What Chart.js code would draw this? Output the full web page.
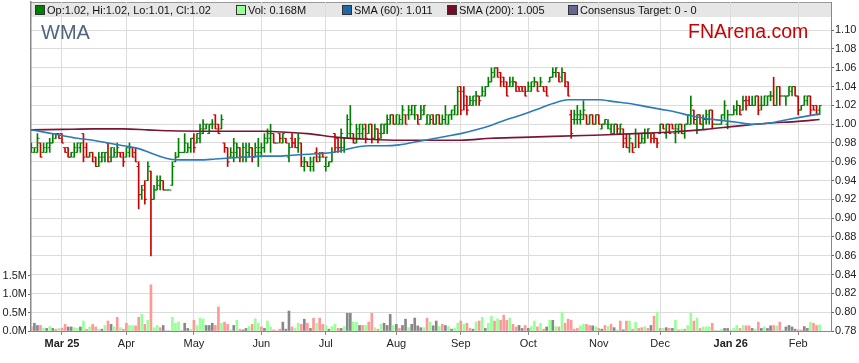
<!DOCTYPE html>
<html>
<head>
<meta charset="utf-8">
<title>WMA</title>
<script src="https://cdn.jsdelivr.net/npm/chart.js@4.4.1/dist/chart.umd.min.js"></script>
<style>
  html, body { margin: 0; padding: 0; background: #fff; }
  #wrap { position: relative; width: 859px; height: 363px; font-family: "Liberation Sans", Arial, sans-serif; }
  #chart { position: absolute; left: 0; top: 0; }
  #legend { position: absolute; left: 31px; top: 3px; width: 800px; height: 14px; font-size: 11px; color: #111; }
  .item { position: absolute; top: 1px; line-height: 13px; white-space: nowrap; }
  .sw { display: inline-block; width: 8px; height: 8px; border: 1px solid #333; vertical-align: -1px; margin-right: 2px; }
  #ticker { position: absolute; left: 41px; top: 22px; font-size: 20px; line-height: 20px; color: #51657c; }
  #brand { position: absolute; left: 688px; top: 21px; font-size: 19.5px; line-height: 20px; color: #cc0000; }
</style>
</head>
<body>
<div id="wrap">
  <canvas id="chart" width="859" height="363"></canvas>
  <div id="legend">
    <span class="item" style="left:4px"><i class="sw" style="background:#008000"></i>Op:1.02, Hi:1.02, Lo:1.01, Cl:1.02</span>
    <span class="item" style="left:205px"><i class="sw" style="background:#99ff99"></i>Vol: 0.168M</span>
    <span class="item" style="left:311px"><i class="sw" style="background:#1f68a8"></i>SMA (60): 1.011</span>
    <span class="item" style="left:416px"><i class="sw" style="background:#7a0a2a"></i>SMA (200): 1.005</span>
    <span class="item" style="left:537px"><i class="sw" style="background:#66668f"></i>Consensus Target: 0 - 0</span>
  </div>
  <div id="ticker">WMA</div>
  <div id="brand">FNArena.com</div>
</div>
<script>
// one slot per weekday, slot 0 = first weekday of March 2025; holidays are flat bars with no volume
const firstSlot = -10;

const monthSlots = [0, 21, 43, 65, 86, 109, 130, 152, 175, 195, 218, 240];
const monthLabels = ['Mar 25', 'Apr', 'May', 'Jun', 'Jul', 'Aug', 'Sep', 'Oct', 'Nov', 'Dec', 'Jan 26', 'Feb'];
const priceTicks = [0.78, 0.80, 0.82, 0.84, 0.86, 0.88, 0.90, 0.92, 0.94, 0.96, 0.98, 1.00, 1.02, 1.04, 1.06, 1.08, 1.10];
const volTicks = [0, 0.5, 1.0, 1.5]; // millions

const opens = [
  .970,.970,.970,.980,.970,.970,.975,.980,.985,.990, // Feb
  .990,.975,.975,.965,.965,.970,.975,.990,.975,.965,.970,.965,.955,.960,.965,.980,.965,.965,.965,.970,.970, // Mar
  .965,.970,.975,.970,.955,.925,.935,.940,.950,.920,.930,.935,.940,.930,.930,.935,.960,.965,.970,.970,.970,.975, // Apr
  .985,.980,.985,.990,.995,.990,1.000,1.010,1.000,.995,.980,.975,.965,.965,.970,.975,.965,.965,.970,.975,.965,.970, // May
  .970,.975,.980,.985,.990,.980,.990,.980,.985,.965,.985,.980,.975,.980,.955,.960,.955,.955,.970,.965,.970, // Jun
  .955,.955,.960,.990,.985,.975,.975,.985,.990,.990,.980,.990,.990,1.000,.990,1.000,.985,.995,.990,.990,1.000,1.000,1.010, // Jul
  1.000,1.000,1.000,1.010,1.010,1.010,1.010,1.010,1.005,1.010,1.000,1.000,1.010,1.000,1.010,1.000,1.005,1.000,1.010,1.010,1.010, // Aug
  1.040,1.035,1.030,1.020,1.020,1.025,1.030,1.030,1.030,1.040,1.045,1.050,1.060,1.055,1.050,1.045,1.040,1.040,1.045,1.040,1.040,1.040, // Sep
  1.035,1.035,1.040,1.045,1.040,1.040,1.040,1.045,1.050,1.055,1.055,1.050,1.055,1.045,1.010,1.005,1.005,1.005,1.005,1.010,1.000,1.010,1.000, // Oct
  1.010,.995,1.000,1.000,.995,.990,1.000,.990,.995,.985,.975,.980,.975,.990,.980,.980,.990,.990,.990,.985, // Nov
  .990,1.000,.990,1.000,1.000,.990,.995,1.000,.990,1.000,1.000,1.015,1.000,1.010,1.000,1.005,1.005,1.015,1.000,1.000,1.000,1.010,1.000, // Dec
  1.010,1.010,1.015,1.020,1.015,1.025,1.025,1.020,1.020,1.030,1.020,1.020,1.020,1.030,1.030,1.020,1.040,1.030,1.030,1.030,1.035,1.040, // Jan
  1.030,1.015,1.020,1.025,1.030,1.020,1.020,1.015 // Feb
];
const highs = [
  .980,.975,.990,.980,.980,.980,.985,.990,.990,.990,
  .990,.975,.975,.970,.980,.980,.980,.990,.980,.970,.970,.965,.970,.970,.970,.980,.975,.975,.980,.970,.970,
  .975,.980,.975,.975,.960,.935,.940,.960,.950,.935,.945,.945,.940,.930,.930,.960,.970,.985,.970,.990,.980,.985,
  .990,.990,1.000,1.005,1.000,1.000,1.005,1.010,1.000,1.010,.980,.975,.975,.985,.980,.975,.980,.980,.980,.975,.980,.985,
  .980,.990,.995,1.000,.990,.980,.990,.990,.985,.980,.990,.985,.990,.980,.965,.960,.965,.965,.975,.970,.970,
  .965,.960,.975,.990,.985,.995,.985,1.010,1.020,.990,1.000,1.000,1.000,1.000,1.000,1.000,1.000,.995,1.000,1.000,1.010,1.010,1.010,
  1.010,1.010,1.020,1.010,1.020,1.020,1.020,1.010,1.020,1.020,1.010,1.010,1.010,1.010,1.010,1.010,1.020,1.010,1.015,1.020,1.040,
  1.040,1.040,1.030,1.030,1.030,1.035,1.030,1.040,1.040,1.050,1.060,1.060,1.060,1.055,1.050,1.045,1.050,1.050,1.045,1.040,1.040,1.040,
  1.045,1.045,1.050,1.045,1.050,1.040,1.040,1.050,1.060,1.060,1.055,1.060,1.055,1.045,1.015,1.015,1.020,1.015,1.025,1.010,1.010,1.010,1.010,
  1.010,1.000,1.005,1.005,1.000,1.000,1.000,1.000,.995,.990,.990,.980,.995,.990,.990,.995,.995,.990,.990,.985,
  1.000,1.000,1.000,1.000,1.000,1.000,1.000,1.000,1.000,1.010,1.030,1.015,1.010,1.010,1.010,1.015,1.015,1.015,1.000,1.000,1.010,1.025,1.015,
  1.010,1.020,1.025,1.020,1.030,1.030,1.030,1.030,1.030,1.030,1.030,1.030,1.030,1.035,1.050,1.040,1.040,1.030,1.030,1.040,1.040,1.040,
  1.030,1.020,1.030,1.030,1.030,1.020,1.020,1.020
];
const lows = [
  .970,.970,.970,.965,.970,.970,.970,.980,.985,.985,
  .980,.970,.965,.965,.965,.970,.970,.960,.965,.965,.960,.955,.955,.960,.960,.960,.960,.965,.965,.965,.955,
  .965,.965,.965,.960,.910,.920,.915,.940,.860,.920,.930,.930,.930,.930,.930,.935,.960,.965,.970,.970,.970,.970,
  .970,.980,.980,.990,.995,.990,.995,.995,.990,.995,.970,.955,.965,.960,.965,.960,.960,.960,.965,.960,.965,.955,
  .965,.970,.980,.970,.980,.980,.980,.980,.980,.960,.975,.975,.970,.955,.950,.955,.950,.950,.960,.960,.965,
  .950,.955,.960,.970,.970,.970,.970,.985,.985,.980,.980,.985,.985,.980,.990,.980,.985,.980,.985,.990,.990,1.000,1.000,
  1.000,1.000,1.000,1.000,1.005,1.010,1.005,1.000,1.005,1.010,1.000,1.000,1.000,1.000,1.000,1.000,1.000,1.000,1.005,1.010,1.010,
  1.010,1.015,1.010,1.020,1.020,1.020,1.020,1.030,1.030,1.040,1.045,1.050,1.050,1.040,1.040,1.030,1.040,1.040,1.035,1.035,1.035,1.030,
  1.035,1.035,1.040,1.035,1.040,1.035,1.030,1.045,1.050,1.050,1.045,1.045,1.040,1.030,.985,1.000,1.000,1.000,1.005,1.000,1.000,1.000,1.000,
  1.000,.995,1.000,.995,.990,.990,.990,.990,.975,.975,.970,.970,.975,.975,.980,.980,.985,.980,.980,.975,
  .990,.995,.985,.990,.995,.980,.990,.990,.985,1.000,1.000,1.000,.990,1.000,.995,1.000,1.000,.995,1.000,1.000,1.000,1.005,.995,
  1.010,1.010,1.010,1.010,1.015,1.015,1.020,1.020,1.020,1.010,1.015,1.020,1.020,1.025,1.020,1.020,1.020,1.030,1.020,1.030,1.030,1.030,
  1.010,1.015,1.020,1.020,1.010,1.015,1.010,1.010
];
const closes = [
  .975,.975,.985,.965,.975,.980,.980,.990,.990,.985,
  .980,.970,.965,.970,.975,.980,.980,.965,.965,.970,.960,.955,.965,.970,.970,.960,.975,.970,.975,.965,.960,
  .975,.975,.965,.960,.925,.930,.920,.955,.920,.930,.940,.940,.930,.930,.930,.955,.965,.970,.970,.980,.975,.985,
  .975,.990,.995,1.000,1.000,1.000,1.000,.995,.990,1.005,.975,.960,.970,.980,.975,.965,.975,.970,.975,.965,.975,.975,
  .975,.985,.990,.990,.980,.980,.985,.990,.980,.975,.980,.975,.985,.960,.960,.955,.960,.965,.960,.965,.965,
  .965,.960,.970,.975,.975,.990,.985,1.005,1.000,.980,.995,1.000,.995,.985,1.000,.985,.995,.985,1.000,1.000,1.005,1.010,1.000,
  1.010,1.005,1.015,1.000,1.015,1.020,1.020,1.000,1.015,1.020,1.010,1.005,1.000,1.010,1.000,1.005,1.010,1.010,1.015,1.020,1.035,
  1.015,1.020,1.015,1.025,1.030,1.030,1.025,1.035,1.040,1.045,1.055,1.060,1.050,1.045,1.040,1.030,1.045,1.045,1.035,1.035,1.035,1.030,
  1.040,1.045,1.045,1.035,1.045,1.035,1.030,1.050,1.055,1.060,1.045,1.055,1.040,1.030,.990,1.010,1.010,1.010,1.015,1.000,1.010,1.000,1.010,
  1.000,1.000,1.005,1.000,1.000,1.000,.995,1.000,.980,.975,.985,.970,.990,.980,.985,.990,.995,.985,.985,.980,
  1.000,.995,1.000,.990,.995,1.000,1.000,.990,1.000,1.010,1.020,1.005,1.010,1.000,1.005,1.010,1.015,1.000,1.000,1.000,1.010,1.020,1.010,
  1.010,1.015,1.020,1.010,1.025,1.020,1.020,1.020,1.030,1.015,1.020,1.030,1.030,1.030,1.020,1.040,1.030,1.030,1.030,1.040,1.040,1.030,
  1.015,1.020,1.030,1.030,1.015,1.015,1.010,1.020
];
// volume in millions
const volumes = [
  .12,.21,.15,.15,.07,.07,.12,.07,.05,.07,
  .08,.18,.11,.11,.09,.07,.11,.27,.05,.11,.18,.11,.05,.05,.15,.27,.18,.11,.37,.09,.05,
  .21,.15,.14,.14,.37,.45,.18,.29,1.25,.09,.15,.09,.15,0,0,.37,.21,.25,0,.21,.07,.05,
  .29,.15,.35,.33,.15,.15,.21,.15,.65,.21,.24,.18,.03,.15,.29,.05,.03,.07,.12,.18,.33,.21,
  .11,.07,.27,.11,.03,0,.05,.24,.05,.54,.11,.07,.21,.18,.32,.21,.07,.35,.21,.35,.18,
  .15,.05,.12,.18,.07,.07,.12,.48,.48,.24,.24,.15,.15,.15,.24,.48,.09,.05,.18,.21,.15,.45,.15,
  .18,.07,.15,.32,.09,.18,.35,.14,.09,.09,.35,.24,.14,.27,.12,.18,.15,.12,.05,.07,.21,
  .27,.18,.21,.07,.05,.24,.27,.37,.07,.21,.40,.27,.33,.29,.43,.29,.35,.18,.11,.15,.07,.15,
  .07,.12,.27,.11,.21,.05,.11,.29,.29,.12,.11,.51,.21,.32,.29,.05,.07,.14,.18,.18,.15,.14,.12,
  .07,.05,.15,.12,.18,.09,.03,.27,.03,.27,.27,.05,.24,.07,.09,.12,.07,.15,.40,.51,
  .07,.07,.09,.07,.07,.29,.03,.05,.05,.15,.48,.27,.35,.07,.11,.11,.11,.21,0,0,.05,.07,.07,
  0,.07,.15,.07,.15,.14,.14,.07,.05,.24,.07,.11,.07,.14,.15,.14,.24,0,.11,.15,.11,.05,
  .03,.03,.12,.07,.24,.21,.15,.168
];
// volume bar tone: g = up, r = down, n = unchanged
const volTone = (
  'rnnrgngnrg' +
  'rrnnggngrgrrgngrngrgr' +
  'rggrrgrgrggrnnngggnnng' +
  'rgggnnnrrgrrgngrnngrgg' +
  'rnggrnrnnnrggrnrnrgrr' +
  'gnggrngnnggnrgrrgrgnnng' +
  'nrnngnnnngrgnngrngngg' +
  'rgrrngrgnggrgrrrgrrnnr' +
  'nggrgrngngrgrrrrrggrrng' +
  'rnrgrngrnrgrgrrgrnrg' +
  'rgnrngrgrggrgrgggrnngnn' +
  'nggrgrrngrngnnrgrnnnnn' +
  'rrnngrrg'
).split('');

const sma60Slots = [-10,-5,0,5,10,15,20,25,30,35,40,45,50,55,60,65,70,75,80,85,90,95,100,105,110,115,120,125,130,135,140,145,150,155,160,165,170,175,180,185,190,195,200,205,210,215,220,225,230,235,240,247];
const sma60Values = [.994,.991,.988,.985,.983,.980,.977,.974,.968,.963,.962,.962,.963,.964,.965,.966,.966,.967,.968,.969,.971,.975,.977,.977,.978,.981,.984,.987,.990,.994,.999,1.005,1.010,1.016,1.022,1.026,1.026,1.026,1.024,1.022,1.019,1.016,1.013,1.009,1.006,1.004,1.002,1.000,1.001,1.004,1.007,1.011];
const sma200Slots = [-10,0,10,20,28,35,50,65,70,80,90,100,110,120,130,140,150,160,170,180,190,200,210,220,230,240,247];
const sma200Values = [.994,.9945,.995,.995,.994,.993,.9925,.9925,.992,.990,.986,.984,.983,.983,.983,.985,.986,.987,.988,.989,.9905,.992,.9945,.998,1.001,1.003,1.005];

[opens, highs, lows, volumes, volTone].forEach((a, k) => {
  if (a.length !== closes.length) throw new Error('array ' + k + ' has ' + a.length + ' items, closes has ' + closes.length);
});

const FONT = '"Liberation Sans", Arial, sans-serif';
const UP = '#008000', DOWN = '#cc0000';
const toneColors = { g: '#99ff99', r: '#ff9999', n: '#888888' };
const barColor = i => (closes[i] >= opens[i] ? UP : DOWN);

const slots = closes.map((_, i) => firstSlot + i);
const tickShift = 0.35;

// grey band behind the legend row, under the grid lines
const legendBand = {
  id: 'legendBand',
  beforeDraw(chart) {
    const { ctx, chartArea } = chart;
    ctx.save();
    ctx.fillStyle = '#e6e6e6';
    ctx.fillRect(chartArea.left, chartArea.top, chartArea.right - chartArea.left, 15);
    ctx.strokeStyle = '#999';
    ctx.lineWidth = 1;
    ctx.beginPath();
    ctx.moveTo(chartArea.left, chartArea.top + 0.5);
    ctx.lineTo(chartArea.right, chartArea.top + 0.5);
    ctx.stroke();
    ctx.restore();
  }
};

new Chart(document.getElementById('chart'), {
  type: 'bar',
  data: {
    datasets: [
      {
        type: 'line', label: 'SMA (60)', yAxisID: 'price', order: 0,
        data: sma60Slots.map((x, i) => ({ x, y: sma60Values[i] })),
        borderColor: '#2b7bb9', borderWidth: 1.6, pointRadius: 0, cubicInterpolationMode: 'monotone'
      },
      {
        type: 'line', label: 'SMA (200)', yAxisID: 'price', order: 0,
        data: sma200Slots.map((x, i) => ({ x, y: sma200Values[i] })),
        borderColor: '#7b1535', borderWidth: 1.6, pointRadius: 0, cubicInterpolationMode: 'monotone'
      },
      {
        type: 'scatter', label: 'Open', yAxisID: 'price', order: 1,
        data: slots.map((x, i) => ({ x: x - tickShift, y: opens[i] })),
        pointStyle: 'line', pointRadius: 1, pointHoverRadius: 1, pointBorderWidth: 1,
        pointBorderColor: ctx => barColor(ctx.dataIndex), pointBackgroundColor: ctx => barColor(ctx.dataIndex)
      },
      {
        type: 'scatter', label: 'Close', yAxisID: 'price', order: 1,
        data: slots.map((x, i) => ({ x: x + tickShift, y: closes[i] })),
        pointStyle: 'line', pointRadius: 1, pointHoverRadius: 1, pointBorderWidth: 1,
        pointBorderColor: ctx => barColor(ctx.dataIndex), pointBackgroundColor: ctx => barColor(ctx.dataIndex)
      },
      {
        type: 'bar', label: 'Range', yAxisID: 'price', order: 2, grouped: false,
        data: slots.map((x, i) => ({ x, y: [lows[i], highs[i]] })),
        backgroundColor: ctx => barColor(ctx.dataIndex), barThickness: 1, borderWidth: 0
      },
      {
        type: 'bar', label: 'Vol', yAxisID: 'vol', order: 3, grouped: false,
        data: slots.map((x, i) => ({ x, y: volumes[i] })),
        backgroundColor: ctx => toneColors[volTone[ctx.dataIndex]], barThickness: 2, borderWidth: 0
      }
    ]
  },
  options: {
    responsive: false,
    animation: false,
    events: [],
    layout: { padding: { top: 2, left: 0, right: 0, bottom: 0 } },
    plugins: { legend: { display: false }, tooltip: { enabled: false } },
    scales: {
      x: {
        type: 'linear', position: 'bottom', min: -10.1, max: 250.7, offset: false,
        afterBuildTicks: s => { s.ticks = monthSlots.map(v => ({ value: v })); },
        afterFit: s => { s.height = 32; s.paddingLeft = 0; s.paddingRight = 0; },
        ticks: {
          autoSkip: false, maxRotation: 0, padding: 2, color: '#222',
          font: ctx => ({ family: FONT, size: 11, weight: /\d/.test(monthLabels[ctx.index] || '') ? 'bold' : 'normal' }),
          callback: (v, i) => monthLabels[i]
        },
        grid: { offset: false, color: '#dcdcdc', tickColor: '#888', tickLength: 4 },
        border: { color: '#888' }
      },
      price: {
        type: 'linear', position: 'right', min: 0.78, max: 1.13,
        afterBuildTicks: s => { s.ticks = priceTicks.map(v => ({ value: v })); },
        afterFit: s => { s.width = 28; s.paddingTop = 0; s.paddingBottom = 0; },
        ticks: { color: '#222', padding: 1, font: { family: FONT, size: 11 }, callback: v => v.toFixed(2) },
        grid: { color: '#dcdcdc', tickColor: '#666', tickLength: 3 },
        border: { color: '#888' }
      },
      vol: {
        type: 'linear', position: 'left', min: 0, max: 8.9,
        afterBuildTicks: s => { s.ticks = volTicks.map(v => ({ value: v })); },
        afterFit: s => { s.width = 31; s.paddingTop = 0; s.paddingBottom = 0; },
        ticks: { color: '#222', padding: 1, font: { family: FONT, size: 11 }, callback: v => v.toFixed(1) + 'M' },
        grid: { drawOnChartArea: false, tickColor: '#666', tickLength: 3 },
        border: { color: '#888', width: 1.5 }
      }
    }
  },
  plugins: [legendBand]
});
</script>
</body>
</html>
